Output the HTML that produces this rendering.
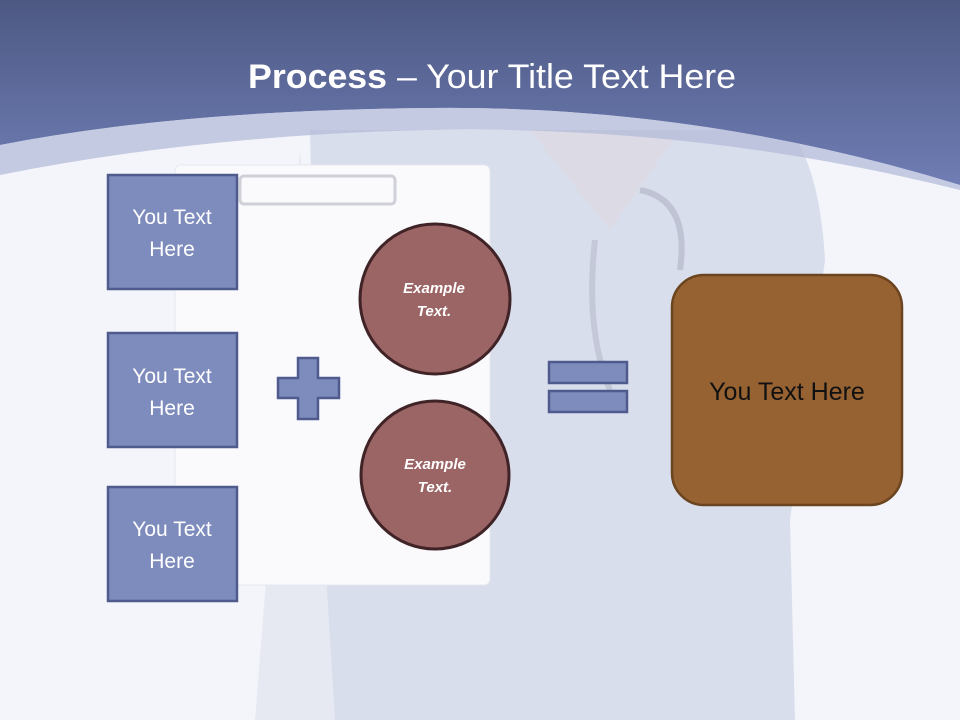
<!DOCTYPE html>
<html><head><meta charset="utf-8"><style>
html,body{margin:0;padding:0;width:960px;height:720px;overflow:hidden;background:#f4f5fa}
svg{display:block}
</style></head><body>
<svg width="960" height="720" viewBox="0 0 960 720" xmlns="http://www.w3.org/2000/svg">
<defs>
<linearGradient id="bg" x1="0" y1="0" x2="0" y2="1">
<stop offset="0" stop-color="#4d5883"/><stop offset="1" stop-color="#6f7db4"/>
</linearGradient>
</defs>
<rect width="960" height="720" fill="#f4f5fa"/>
<!-- faint nurse figure -->
<path d="M310 130 L790 130 Q820 170 825 260 L790 520 L795 720 L330 720 L320 560 Z" fill="#d9deed"/>
<path d="M300 150 L255 720 L335 720 Z" fill="#e6e9f2"/>
<path d="M530 130 L610 230 L680 130 Z" fill="#dcd8e2" opacity="0.8"/>
<path d="M595 240 Q585 330 610 390" fill="none" stroke="#c4c8d8" stroke-width="6"/>
<path d="M640 190 Q690 200 680 270" fill="none" stroke="#bfc3d4" stroke-width="6"/>
<!-- clipboard -->
<rect x="175" y="165" width="315" height="420" rx="6" fill="#fafafd" stroke="#e6e8f0"/>
<rect x="240" y="176" width="155" height="28" rx="4" fill="none" stroke="#cfd0d8" stroke-width="3"/>
<!-- banner -->
<path d="M0 0 H960 V185 Q700 105 430 108 Q180 110 0 145 Z" fill="url(#bg)"/>
<path d="M0 145 Q180 110 430 108 Q700 105 960 185 L960 190 Q700 125 430 130 Q200 135 0 175 Z" fill="#b4bbd8" opacity="0.75"/>
<text x="492" y="88" text-anchor="middle" font-family="'Liberation Sans',sans-serif" font-size="34" fill="#fff" textLength="488" lengthAdjust="spacingAndGlyphs"><tspan font-weight="bold">Process</tspan> – Your Title Text Here</text>
<!-- boxes -->
<g fill="#7e8bbd" stroke="#4e5b8c" stroke-width="2.5">
<rect x="108" y="175" width="129" height="114"/>
<rect x="108" y="333" width="129" height="114"/>
<rect x="108" y="487" width="129" height="114"/>
</g>
<g font-family="'Liberation Sans',sans-serif" font-size="21" fill="#fff" text-anchor="middle">
<text x="172" y="224">You Text</text><text x="172" y="256">Here</text>
<text x="172" y="383">You Text</text><text x="172" y="415">Here</text>
<text x="172" y="536">You Text</text><text x="172" y="568">Here</text>
</g>
<!-- plus -->
<path d="M298 358 H318 V378 H339 V398 H318 V419 H298 V398 H278 V378 H298 Z" fill="#7e8bbd" stroke="#4e5b8c" stroke-width="2.5"/>
<!-- circles -->
<g fill="#9c6565" stroke="#3f2326" stroke-width="3">
<circle cx="435" cy="299" r="75"/>
<circle cx="435" cy="475" r="74"/>
</g>
<g font-family="'Liberation Sans',sans-serif" font-size="15" font-weight="bold" font-style="italic" fill="#fff" text-anchor="middle">
<text x="434" y="293">Example</text><text x="434" y="316">Text.</text>
<text x="435" y="469">Example</text><text x="435" y="492">Text.</text>
</g>
<!-- equals -->
<g fill="#7e8bbd" stroke="#4e5b8c" stroke-width="2.5">
<rect x="549" y="362" width="78" height="21"/>
<rect x="549" y="391" width="78" height="21"/>
</g>
<!-- result -->
<rect x="672" y="275" width="230" height="230" rx="32" fill="#976232" stroke="#6b4420" stroke-width="2.5"/>
<text x="787" y="400" text-anchor="middle" font-family="'Liberation Sans',sans-serif" font-size="25" fill="#111">You Text Here</text>
</svg>
</body></html>
